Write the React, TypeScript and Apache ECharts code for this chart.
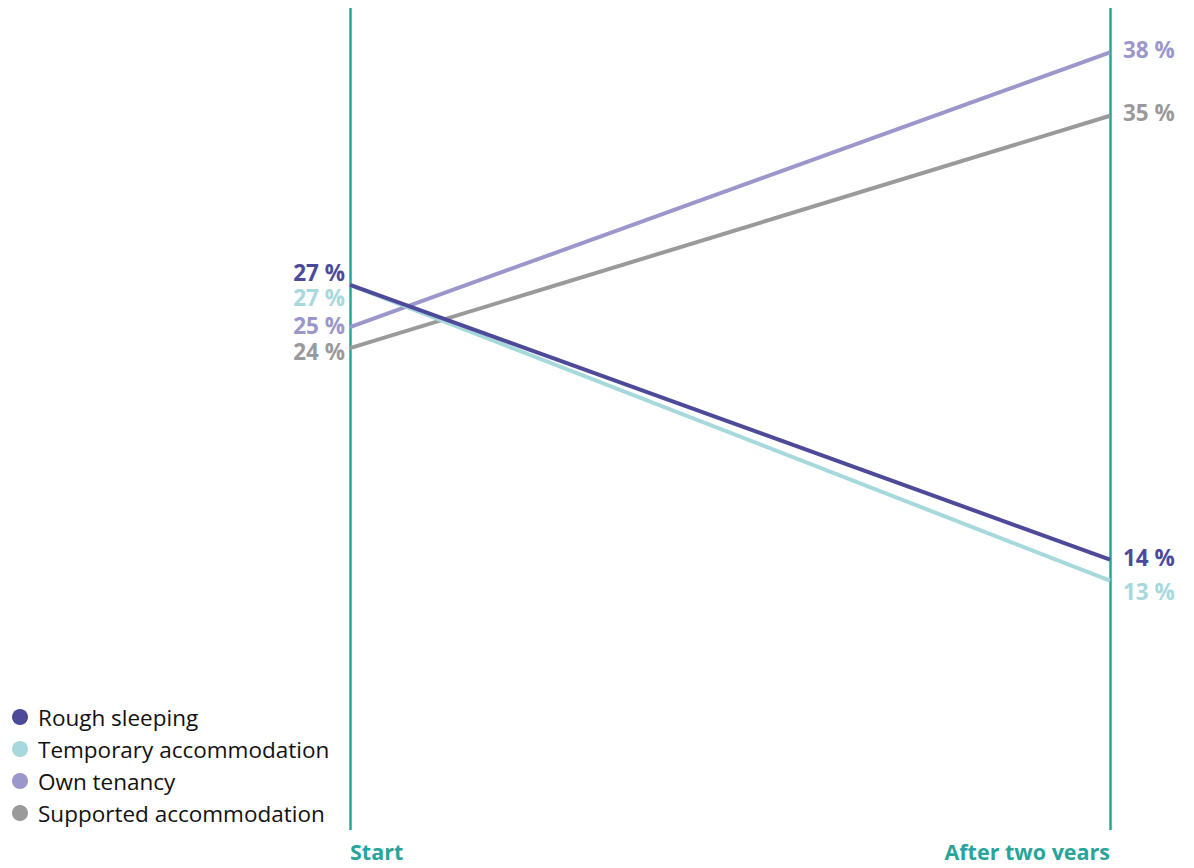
import React, { useEffect, useRef } from "react";
import * as echarts from "echarts";

const categories = ["Start", "After two years"];
const seriesNames = ["Rough sleeping", "Temporary accommodation", "Own tenancy", "Supported accommodation"];
const roughSleeping = [27, 14];
const temporaryAccommodation = [27, 13];
const ownTenancy = [25, 38];
const supportedAccommodation = [24, 35];

const colors = ["#4e4a9a", "#a6d8dc", "#9b97cb", "#9a9a9a"];
const values = [roughSleeping, temporaryAccommodation, ownTenancy, supportedAccommodation];
// label vertical offsets [start, end] to avoid overlaps
const labelOffsets = [
  [-12, -2],
  [13, 11],
  [-2, -3],
  [3, -3],
];
const FONT = "'Open Sans', 'Noto Sans', sans-serif";
const TEAL = "#27a59b";

export default function App() {
  const ref = useRef<HTMLDivElement>(null);
  useEffect(() => {
    if (!ref.current) return;
    const chart = echarts.init(ref.current, undefined, { renderer: "svg" });
    const series = seriesNames.map((name, i) => ({
      name,
      type: "line",
      z: 10 - i,
      symbol: "circle",
      symbolSize: 0,
      showSymbol: true,
      lineStyle: { width: 4, color: colors[i] },
      itemStyle: { color: colors[i] },
      emphasis: { disabled: true },
      data: values[i].map((v, j) => ({
        value: v,
        label: {
          show: true,
          position: j === 0 ? "left" : "right",
          distance: j === 0 ? 5 : 13,
          offset: [0, labelOffsets[i][j]],
          formatter: "{c} %",
          color: colors[i],
          fontFamily: FONT,
          fontWeight: "bold",
          fontSize: 22.5,
          lineHeight: 19,
        },
      })),
    }));
    chart.setOption({
      animation: false,
      backgroundColor: "#ffffff",
      grid: { left: 350, right: 84, top: 8, bottom: 38, containLabel: false },
      legend: {
        orient: "vertical",
        left: 7,
        top: 699,
        data: seriesNames.map((n) => ({ name: n, icon: "circle" })),
        itemWidth: 16,
        itemHeight: 16,
        itemGap: 6,
        textStyle: {
          fontFamily: FONT,
          fontSize: 22.5,
          color: "#111111",
          lineHeight: 26,
          padding: [0, 0, 0, 5],
        },
      },
      xAxis: {
        type: "category",
        data: categories,
        boundaryGap: false,
        axisLine: { show: false },
        axisTick: { show: false },
        splitLine: { show: true, lineStyle: { color: TEAL, width: 2.5 } },
        axisLabel: {
          color: TEAL,
          fontFamily: FONT,
          fontWeight: "bold",
          fontSize: 21.5,
          lineHeight: 22,
          margin: 10,
          alignMinLabel: "left",
          alignMaxLabel: "right",
        },
      },
      yAxis: {
        type: "value",
        min: 1.2,
        max: 40.1,
        show: false,
        splitLine: { show: false },
      },
      series,
    });
    return () => chart.dispose();
  }, []);
  return <div ref={ref} style={{ width: 1194, height: 868, margin: -8 }} />;
}
